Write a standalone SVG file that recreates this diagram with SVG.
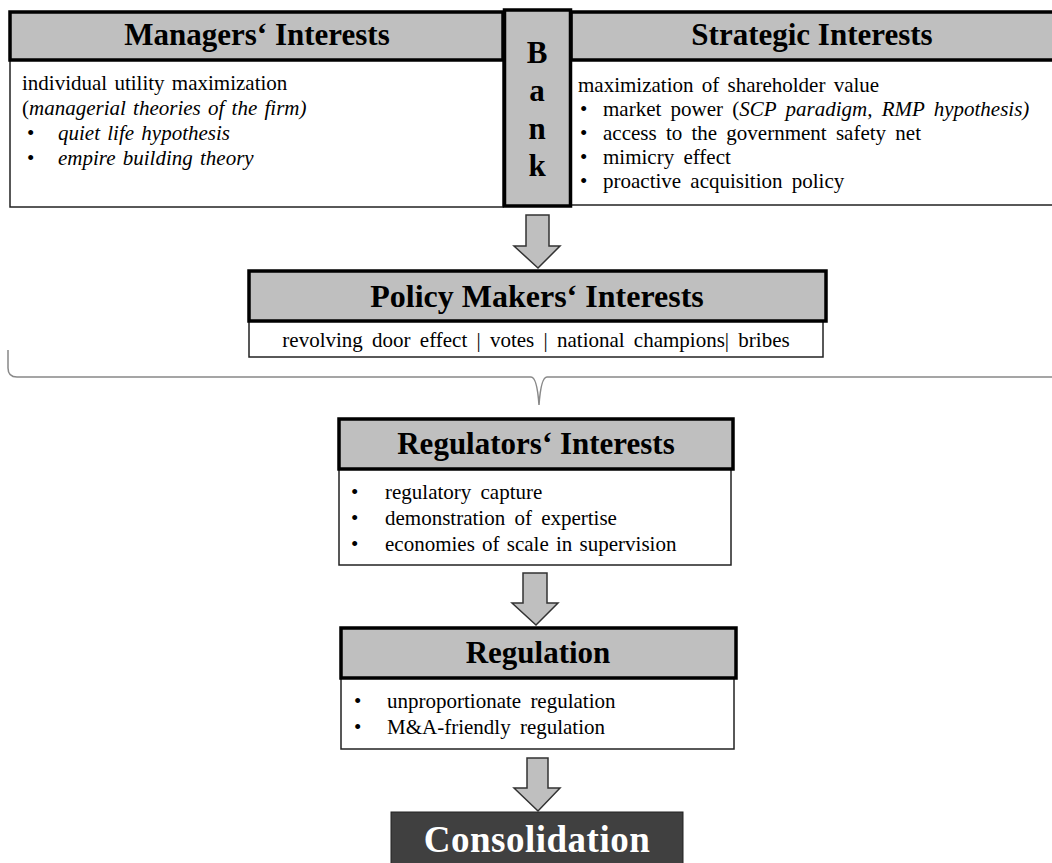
<svg xmlns="http://www.w3.org/2000/svg" width="1052" height="863" viewBox="0 0 1052 863">
<style>
.hdr{fill:#bfbfbf;stroke:#000;stroke-width:3.5}
.body{fill:#fff;stroke:#222;stroke-width:1.5}
.ht{font-family:"Liberation Serif","Times New Roman",serif;font-weight:bold;font-size:31px;fill:#000;text-anchor:middle}
.bt{font-family:"Liberation Serif","Times New Roman",serif;font-size:21px;fill:#000;word-spacing:2px}
.it{font-style:italic}
.arrow{fill:#bfbfbf;stroke:#333;stroke-width:1.5}
</style>
<rect width="1052" height="863" fill="#fff"/>
<g id="connectors">
<polygon class="arrow" points="526,215 549,215 549,246 560,246 538,268 514,246 526,246"/>
<polygon class="arrow" points="523,573 547,573 547,603 558,603 536,625 512,603 523,603"/>
<polygon class="arrow" points="527,758 548,758 548,788 560,788 538,811 514,788 527,788"/>
<path id="brace" d="M8,350 L8,368 Q8,377 17,377 L531,377 Q537,377 539,405 Q541,377 547,377 L1052,377" fill="none" stroke="#888" stroke-width="1.5"/>
</g>
<g id="managers">
<rect class="body" x="10" y="60" width="493" height="147"/>
<rect class="hdr" x="10" y="12" width="493" height="48"/>
<text class="ht" x="257" y="45">Managers‘ Interests</text>
<text class="bt" x="22" y="90">individual utility maximization</text>
<text class="bt" x="22" y="115">(<tspan class="it">managerial theories of the firm)</tspan></text>
<text class="bt" x="27" y="140">•</text>
<text class="bt it" x="58" y="140">quiet life hypothesis</text>
<text class="bt" x="27" y="165">•</text>
<text class="bt it" x="58" y="165">empire building theory</text>
</g>
<g id="strategic">
<rect class="body" x="571" y="60" width="490" height="145"/>
<rect class="hdr" x="571" y="12" width="490" height="48"/>
<text class="ht" x="812" y="45">Strategic Interests</text>
<text class="bt" x="578" y="92" style="word-spacing:3px">maximization of shareholder value</text>
<text class="bt" x="580" y="116">•</text>
<text class="bt" x="603" y="116" style="word-spacing:4px">market power (<tspan class="it">SCP paradigm, RMP hypothesis)</tspan></text>
<text class="bt" x="580" y="140">•</text>
<text class="bt" x="603" y="140" style="word-spacing:4px">access to the government safety net</text>
<text class="bt" x="580" y="164">•</text>
<text class="bt" x="603" y="164" style="word-spacing:4px">mimicry effect</text>
<text class="bt" x="580" y="188">•</text>
<text class="bt" x="603" y="188" style="word-spacing:4px">proactive acquisition policy</text>
</g>
<g id="bank">
<rect class="hdr" x="504.5" y="10" width="66" height="196"/>
<text class="ht" x="537" y="63">B</text>
<text class="ht" x="537" y="101">a</text>
<text class="ht" x="537" y="139">n</text>
<text class="ht" x="537" y="176">k</text>
</g>
<g id="policy">
<rect class="body" x="249" y="321" width="574" height="36"/>
<rect class="hdr" x="249" y="271" width="577" height="50"/>
<text class="ht" x="537" y="307" style="font-size:32px">Policy Makers‘ Interests</text>
<text class="bt" x="536" y="347" text-anchor="middle" style="word-spacing:4px">revolving door effect  |  votes  |  national champions|  bribes</text>
</g>
<g id="regulators">
<rect class="body" x="339" y="469" width="392" height="96"/>
<rect class="hdr" x="339" y="419" width="394" height="50"/>
<text class="ht" x="536" y="454">Regulators‘ Interests</text>
<text class="bt" x="351" y="499">•</text>
<text class="bt" x="385" y="499" style="word-spacing:4px">regulatory capture</text>
<text class="bt" x="351" y="525">•</text>
<text class="bt" x="385" y="525" style="word-spacing:4px">demonstration of expertise</text>
<text class="bt" x="351" y="551">•</text>
<text class="bt" x="385" y="551">economies of scale in supervision</text>
</g>
<g id="regulation">
<rect class="body" x="341" y="678" width="393" height="71"/>
<rect class="hdr" x="341" y="628" width="395" height="50"/>
<text class="ht" x="538" y="663">Regulation</text>
<text class="bt" x="354" y="708">•</text>
<text class="bt" x="387" y="708" style="word-spacing:4px">unproportionate regulation</text>
<text class="bt" x="354" y="734">•</text>
<text class="bt" x="387" y="734" style="word-spacing:4px">M&amp;A-friendly regulation</text>
</g>
<g id="consolidation">
<rect x="391" y="812" width="292" height="60" fill="#404040" stroke="#222" stroke-width="1"/>
<text class="ht" x="537" y="852" style="font-size:37px;fill:#fff;letter-spacing:0.5px">Consolidation</text>
</g>
</svg>
